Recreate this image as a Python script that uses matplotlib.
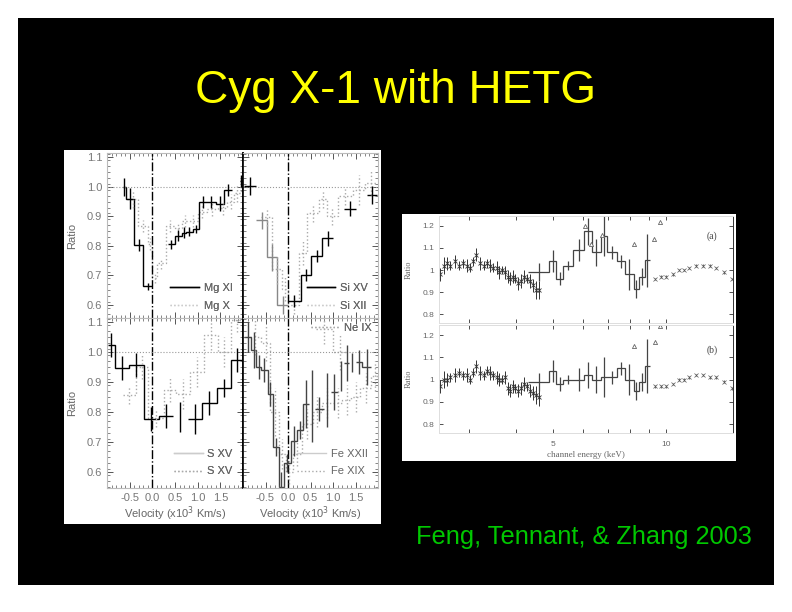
import numpy as np
import matplotlib
matplotlib.use("Agg")
import matplotlib.pyplot as plt
from matplotlib.patches import Rectangle
from matplotlib.ticker import FixedLocator, NullFormatter

nan = float("nan")
W, H = 792, 612
plt.rcParams["font.family"] = ["Liberation Sans", "DejaVu Sans"]

TITLE = "Cyg X-1 with HETG"
CREDIT = "Feng, Tennant, & Zhang 2003"

# ---------- left figure: velocity profiles (edges, values, errors) ----------
mg11_edges = [-.654, -.58, -.397, -.213, 0, .338, .507, .647, .74, .89, 1.037, 1.2, 1.4, 1.588, 1.75, 1.93, 2.0]
mg11_vals = [1.0, .96, .803, .662, nan, .805, .835, .845, .848, .857, .948, .948, .943, .989, nan, 1.02]
mg11_errs = [.03, .035, .02, .012, 0, .015, .02, .02, .015, .015, .02, .02, .025, .02, 0, .02]
mg10_edges = [-.55, -.32, -.1, 0, .1, .3, .5, .65, .8, 1.0, 1.2, 1.45, 1.65, 1.8, 1.95, 2.0]
mg10_vals = [.96, .867, .807, .69, .74, .867, .862, .885, .885, .914, .925, .928, .95, .98, 1.026]
mg10_errs = [.03, .02, .02, .015, .02, .02, .02, .02, .02, .02, .025, .025, .025, .03, .03]

si15_edges = [-.97, -.71, 0, .28, .51, .76, 1.0, 1.24, 1.5, 1.76, 1.98]
si15_vals = [1.003, nan, .612, .70, .765, .826, nan, .926, nan, .973]
si15_errs = [.03, 0, .02, .02, .02, .025, 0, .025, 0, .03]
si15b_edges = [-.71, -.46, -.24, 0]
si15b_vals = [.886, .761, .60]
si15b_errs = [.03, .045, .03]
si12_edges = [-.6, -.35, -.13, 0, .25, .43, .68, .87, 1.1, 1.45, 1.7, 1.98]
si12_vals = [.897, .72, .653, .60, .776, .91, .96, .90, .97, .99, 1.014]
si12_errs = [.03, .05, .04, .03, .04, .03, .03, .03, .03, .05, .04]

s15a_edges = [-.985, -.82, -.51, -.19, .15, .45, .78, 1.09, 1.42, 1.74, 2.0]
s15a_vals = [1.022, .948, .956, .778, .786, nan, .778, .831, .881, .972]
s15a_errs = [.04, .04, .04, .04, .04, .05, .05, .04, .03, .04]
s15b_edges = [-.65, -.36, -.1, .26, .52, .84, 1.13, 1.44, 1.74, 2.0]
s15b_vals = [.856, .95, .78, .874, .859, .933, 1.056, 1.0, 1.105]
s15b_errs = [.03, .04, .03, .04, .05, .05, .05, .05, .04]

fe22_edges = [-.98, -.82, -.71, -.6, -.45, -.33, -.2, -.1, .06, .2, .34, .46, .59, .8, .95, 1.1, 1.25, 1.35, 1.5, 1.65, 1.85]
fe22_vals = [1.05, 1.008, .95, .939, .859, .683, .55, .63, .705, .741, .826, nan, .809, nan, .867, nan, .963, nan, .967, .95]
fe22_errs = [.05, .06, .04, .04, .04, .03, .05, .03, .05, .03, .08, .12, .04, .09, .06, .05, .06, .03, .04, .06]
fe19_edges = [-.85, -.6, -.4, -.2, -.05, .1, .3, .55, .75, 1.0, 1.2, 1.4, 1.6, 1.85, 2.0]
fe19_vals = [1.05, 1.03, .80, .66, .60, .66, .76, .80, .83, .83, .84, .85, .88, .92]
fe19_errs = [.06, .06, .08, .05, .04, .04, .05, .05, .05, .05, .05, .05, .05, .05]
ne9_edges = [.62, 1.0, 1.3]
ne9_vals = [1.075, 1.0]
ne9_errs = [.05, .06]

vel_ticks = [-.5, 0, .5, 1, 1.5]
vel_tick_labels = ["-0.5", "0.0", "0.5", "1.0", "1.5"]
ratio_ticks = [.6, .7, .8, .9, 1.0, 1.1]

# ---------- right figure: residual ratios ----------
low_e = [2.52, 2.58, 2.62, 2.68, 2.75, 2.82, 2.9, 2.96, 3.02, 3.08, 3.14, 3.2, 3.28, 3.35, 3.42, 3.48, 3.55, 3.6,
         3.68, 3.74, 3.8, 3.85, 3.92, 3.98, 4.05, 4.12, 4.2, 4.28, 4.36, 4.44, 4.52, 4.6]
low_a = [.98, 1.02, 1.03, 1.02, 1.04, 1.02, 1.03, 1.02, 1.01, 1.04, 1.07, 1.03, 1.02, 1.03, 1.02, 1.01, 1.01, .99,
         1.0, .99, .97, .96, .97, .96, .94, .95, .97, .96, .95, .93, .91, .91]
low_b = [.97, 1.0, 1.0, 1.01, 1.02, 1.03, 1.02, 1.02, 1.0, 1.03, 1.06, 1.03, 1.02, 1.04, 1.03, 1.02, 1.01, 1.0,
         1.0, 1.01, .96, .95, .97, .96, .95, .96, .98, .97, .95, .94, .93, .92]
low_err = [.03, .04, .03, .02, .03, .02, .02, .03, .02, .02, .03, .03, .02, .02, .03, .02, .03, .03,
           .02, .03, .03, .03, .03, .02, .03, .03, .03, .02, .03, .03, .04, .04]
high_edges = [4.3, 4.9, 5.1, 5.33, 5.67, 6.05, 6.35, 6.7, 6.95, 7.4, 7.75, 8.2, 8.45, 8.75, 9.05]
high_a = [.99, 1.04, .96, 1.02, 1.09, 1.175, 1.08, 1.155, 1.08, 1.04, .98, .915, .97, 1.045]
high_b = [.99, 1.04, .98, 1.0, 1.0, 1.02, 1.0, 1.01, 1.01, 1.05, 1.0, .95, .99, 1.06]
high_err = [.04, .05, .03, .02, .05, .06, .06, .09, .03, .03, .07, .04, .04, .12]
tail_e = [9.3, 9.7, 10, 10.4, 10.8, 11.1, 11.5, 12.0, 12.5, 13, 13.5, 14.2, 14.9]
tail_a = [.96, .97, .97, .98, 1.0, 1.0, 1.01, 1.02, 1.02, 1.02, 1.01, .99, .96]
tail_b = [.97, .97, .97, .98, 1.0, 1.0, 1.01, 1.02, 1.02, 1.01, 1.01, .99, .96]
tri_e = [6.1, 6.3, 6.75, 8.2, 9.25, 9.6]
tri_a = [1.2, 1.12, 1.16, 1.12, 1.14, 1.22]
tri_b_e = [8.2, 9.3, 9.6]
tri_b = [1.15, 1.17, 1.24]
energy_major = [5, 10]
energy_all = [3, 4, 5, 6, 7, 8, 9, 10]
res_y = [.8, .9, 1, 1.1, 1.2]
res_y_labels = ["0.8", "0.9", "1", "1.1", "1.2"]


def px_axes(fig, x0, y0, x1, y1, **kw):
    return fig.add_axes([x0 / W, 1 - y1 / H, (x1 - x0) / W, (y1 - y0) / H], **kw)


fig = plt.figure(figsize=(W / 100, H / 100), dpi=100, facecolor="white")
fig.add_artist(Rectangle((18 / W, 1 - 585 / H), 756 / W, 567 / H, transform=fig.transFigure, fc="black", ec="none", zorder=-10))
fig.add_artist(Rectangle((64 / W, 1 - 524 / H), 317 / W, 374 / H, transform=fig.transFigure, fc="white", ec="none", zorder=-9))
fig.add_artist(Rectangle((402 / W, 1 - 461 / H), 334 / W, 247 / H, transform=fig.transFigure, fc="white", ec="none", zorder=-9))

fig.text(396 / W, 1 - 91 / H, TITLE, color="#ffff00", fontsize=33.1, ha="center", va="center")
fig.text(584 / W, 1 - 537 / H, CREDIT, color="#00c800", fontsize=18.3, ha="center", va="center")


def draw(ax, edges, vals, errs, color="black", ls="-", lw=1.0):
    e = np.array(edges)
    v = np.array(vals)
    c = (e[:-1] + e[1:]) / 2
    ax.stairs(np.ma.masked_invalid(v), e, baseline=None, color=color, ls=ls, lw=lw)
    # error bars; a bin without a step still has its bar, near the neighbouring level
    filled = np.where(np.isnan(v), np.interp(c, c[~np.isnan(v)], v[~np.isnan(v)]), v)
    ax.vlines(c, filled - np.array(errs), filled + np.array(errs), color=color, lw=lw,
              ls="-" if ls == "-" else ls)


def setup_vel(ax, row, col):
    ax.set_xlim(-1, 2)
    ax.set_ylim(*((.555, 1.115) if row == 0 else (.547, 1.113)))
    ax.axvline(0, color="black", ls="-.", lw=1)
    ax.axhline(1, color="#999999", ls=":", lw=.8)
    ax.set_xticks(vel_ticks)
    ax.set_yticks(ratio_ticks)
    ax.xaxis.set_minor_locator(FixedLocator(np.arange(-1, 2.01, .1)))
    ax.yaxis.set_minor_locator(FixedLocator(np.arange(.55, 1.12, .02)))
    ax.tick_params(which="both", direction="in", top=True, right=True, colors="#555555", labelcolor="#777777", labelsize=8)
    ax.tick_params(which="major", length=4, width=.7)
    ax.tick_params(which="minor", length=2, width=.5)
    for k, s in ax.spines.items():
        s.set_linewidth(.8)
        s.set_color("#bbbbbb")
    ax.spines["left" if col == 1 else "right"].set_color("black")
    ax.spines["left" if col == 1 else "right"].set_linewidth(1.2)
    if row == 1:
        ax.set_xticklabels(vel_tick_labels)
        ax.set_xlabel("Velocity (x10$^3$ Km/s)", fontsize=8, color="#666666", labelpad=1)
    else:
        ax.tick_params(axis="x", labelbottom=False)
    if col == 0:
        ax.set_ylabel("Ratio", fontsize=8, color="#666666", labelpad=7)
    else:
        ax.tick_params(axis="y", labelleft=False)


def legend(ax, items, loc="lower right", anchor=(.94, .03)):
    hs = [ax.plot([], [], color=c, ls=l, lw=1, label=t)[0] for t, c, l in items]
    leg = ax.legend(handles=hs, loc=loc, bbox_to_anchor=anchor, frameon=False, fontsize=8, labelcolor="#666666",
                    handlelength=2.6, handletextpad=.4, labelspacing=.7, borderpad=.2, borderaxespad=0)
    ax.add_artist(leg)


GR = "#aaaaaa"
ax = px_axes(fig, 107, 153, 243, 318)
setup_vel(ax, 0, 0)
draw(ax, mg10_edges, mg10_vals, mg10_errs, GR, ":")
draw(ax, mg11_edges, mg11_vals, mg11_errs)
legend(ax, [("Mg XI", "black", "-"), ("Mg X", "#cccccc", ":")])

ax = px_axes(fig, 243, 153, 378, 318)
setup_vel(ax, 0, 1)
draw(ax, si12_edges, si12_vals, si12_errs, GR, ":")
draw(ax, si15b_edges, si15b_vals, si15b_errs, "#888888")
draw(ax, si15_edges, si15_vals, si15_errs)
legend(ax, [("Si XV", "black", "-"), ("Si XII", "#cccccc", ":")])

ax = px_axes(fig, 107, 318, 243, 488)
setup_vel(ax, 1, 0)
draw(ax, s15b_edges, s15b_vals, s15b_errs, GR, ":")
draw(ax, s15a_edges, s15a_vals, s15a_errs)
legend(ax, [("S XV", "#cccccc", "-"), ("S XV", GR, ":")], anchor=(.94, .055))

ax = px_axes(fig, 243, 318, 378, 488)
setup_vel(ax, 1, 1)
draw(ax, ne9_edges, ne9_vals, ne9_errs, GR, ":")
draw(ax, fe19_edges, fe19_vals, fe19_errs, GR, ":")
draw(ax, fe22_edges, fe22_vals, fe22_errs, "#444444")
legend(ax, [("Fe XXII", "#cccccc", "-"), ("Fe XIX", GR, ":")], anchor=(.94, .055))
legend(ax, [("Ne IX", GR, ":")], loc="upper right", anchor=(.97, .985))


def setup_res(ax, label, bottom, label_y):
    ax.set_xscale("log")
    ax.set_xlim(2.5, 15)
    ax.set_ylim(.76, 1.245)
    ax.set_yticks(res_y)
    ax.set_yticklabels(res_y_labels)
    ax.xaxis.set_major_locator(FixedLocator(energy_major))
    ax.xaxis.set_minor_locator(FixedLocator(energy_all))
    ax.xaxis.set_minor_formatter(NullFormatter())
    ax.tick_params(which="both", direction="in", top=True, right=True, labelsize=6, labelcolor="#666666",
                   color="#333333", width=.6, length=3)
    ax.tick_params(axis="x", which="both", pad=6)
    ax.set_ylabel("Ratio", fontsize=6, color="#666666", labelpad=7, family="Liberation Serif")
    for k, s in ax.spines.items():
        s.set_linewidth(.7)
        s.set_color("#dddddd" if k in ("top", "bottom", "left") else "#333333")
    ax.text(.93, label_y, label, transform=ax.transAxes, fontsize=7, color="#444444", ha="center", family="Liberation Serif")
    if bottom:
        ax.set_xticklabels(["5", "10"])
        ax.set_xlabel("channel energy (keV)", fontsize=6.5, color="#666666", labelpad=2, family="Liberation Serif")
    else:
        ax.tick_params(axis="x", which="both", labelbottom=False)


ax = px_axes(fig, 439, 216, 733, 323)
setup_res(ax, "(a)", False, .79)
ax.errorbar(low_e, low_a, yerr=low_err, fmt="x", ms=3, mew=.6, lw=.7, color="#333333")
draw(ax, high_edges, high_a, high_err, "#444444", lw=.9)
ax.errorbar(tail_e, tail_a, yerr=.006, fmt="x", ms=2.5, mew=.5, lw=.6, color="#555555")
ax.plot(tri_e, tri_a, "^", ms=3, mfc="white", mec="#666666", mew=.6)

ax = px_axes(fig, 439, 325, 733, 433)
setup_res(ax, "(b)", True, .74)
ax.errorbar(low_e, low_b, yerr=low_err, fmt="x", ms=3, mew=.6, lw=.7, color="#333333")
draw(ax, high_edges, high_b, high_err, "#444444", lw=.9)
ax.errorbar(tail_e, tail_b, yerr=.006, fmt="x", ms=2.5, mew=.5, lw=.6, color="#555555")
ax.plot(tri_b_e, tri_b, "^", ms=3, mfc="white", mec="#666666", mew=.6)

fig.savefig("out.png", dpi=100, facecolor=fig.get_facecolor())
